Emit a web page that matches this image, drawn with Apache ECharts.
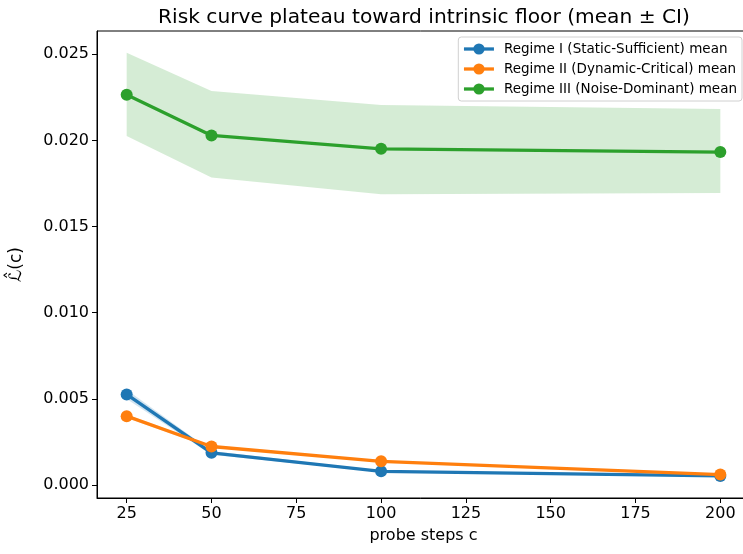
<!DOCTYPE html>
<html>
<head>
<meta charset="utf-8">
<script src="https://cdn.jsdelivr.net/npm/echarts@6/dist/echarts.min.js"></script>
<style>html,body{margin:0;padding:0;background:#fff}#c{width:743px;height:554px}</style>
</head>
<body>
<div id="c"></div>
<script>
const steps = [25, 50, 100, 200];
const xTicks = [25, 50, 75, 100, 125, 150, 175, 200];
const yTicks = [0, 0.005, 0.010, 0.015, 0.020, 0.025];

const regime1Mean = [0.00525, 0.00186, 0.00079, 0.00052];
const regime1Lo   = [0.00498, 0.00175, 0.00074, 0.00048];
const regime1Hi   = [0.00552, 0.00197, 0.00084, 0.00056];

const regime2Mean = [0.00399, 0.00223, 0.00137, 0.00060];
const regime2Lo   = [0.00389, 0.00216, 0.00132, 0.00056];
const regime2Hi   = [0.00409, 0.00230, 0.00142, 0.00064];

const regime3Mean = [0.02265, 0.02029, 0.01951, 0.01932];
const regime3Lo   = [0.02025, 0.01785, 0.01688, 0.01694];
const regime3Hi   = [0.02509, 0.02287, 0.02205, 0.02182];

const names = [
  'Regime I (Static-Sufficient) mean',
  'Regime II (Dynamic-Critical) mean',
  'Regime III (Noise-Dominant) mean'
];
const colors = ['#1f77b4', '#ff7f0e', '#2ca02c'];

function pairs(xs, ys) { return xs.map((x, i) => [x, ys[i]]); }

function band(idx, lo, hi) {
  const data = steps.map((x, i) => [x, lo[i], hi[i]]);
  return {
    type: 'custom', silent: true, z: 1,
    data: [0],
    encode: { x: [], y: [] },
    renderItem: function (params, api) {
      const top = data.map(d => api.coord([d[0], d[2]]));
      const bot = data.map(d => api.coord([d[0], d[1]])).reverse();
      return {
        type: 'polygon',
        shape: { points: top.concat(bot) },
        style: { fill: colors[idx], opacity: 0.2 }
      };
    }
  };
}

function meanSeries(idx, vals) {
  return { type: 'line', name: names[idx], data: pairs(steps, vals), symbol: 'circle', symbolSize: 12,
    color: colors[idx], lineStyle: { width: 3.3, color: colors[idx] },
    itemStyle: { color: colors[idx] }, z: 3 + idx };
}

const font = 'DejaVu Sans';
const chart = echarts.init(document.getElementById('c'), null, { renderer: 'canvas' });
chart.setOption({
  animation: false,
  backgroundColor: '#fff',
  textStyle: { fontFamily: font },
  title: {
    text: 'Risk curve plateau toward intrinsic floor (mean \u00b1 CI)',
    left: 419, top: 3, textAlign: 'center',
    textStyle: { fontFamily: font, fontSize: 20.2, fontWeight: 'normal', color: '#000' }
  },
  grid: { left: 97, right: -7, top: 31, bottom: 56, outerBoundsMode: 'none', containLabel: false,
    show: true, borderColor: '#000', borderWidth: 1, backgroundColor: 'transparent' },
  legend: {
    data: names, orient: 'vertical', right: 1, top: 37,
    itemWidth: 30, itemHeight: 14, itemGap: 6,
    padding: [5, 5, 5, 4],
    lineStyle: { width: 3.3 },
    borderColor: '#d0d0d0', borderWidth: 1, borderRadius: 3, backgroundColor: 'rgba(255,255,255,0.8)',
    textStyle: { fontFamily: font, fontSize: 13.5, color: '#000', padding: [0, 0, 0, 5] }
  },
  xAxis: {
    type: 'value', min: 16.25, max: 208.75,
    name: 'probe steps c', nameLocation: 'middle', nameGap: 30,
    nameTextStyle: { fontFamily: font, fontSize: 16, color: '#000' },
    axisLine: { show: true, onZero: false, lineStyle: { color: '#000', width: 1 } },
    axisTick: { show: true, length: 5, customValues: xTicks, lineStyle: { color: '#000' } },
    axisLabel: { customValues: xTicks, fontFamily: font, fontSize: 16, color: '#000', margin: 8 },
    splitLine: { show: false }
  },
  yAxis: {
    type: 'value', min: -0.00076, max: 0.02635,
    name: '\u2112\u0302(c)', nameLocation: 'middle', nameGap: 72, nameRotate: 90,
    nameTextStyle: { fontFamily: font, fontSize: 17, color: '#000' },
    axisLine: { show: true, onZero: false, lineStyle: { color: '#000', width: 1 } },
    axisTick: { show: true, length: 5, customValues: yTicks, lineStyle: { color: '#000' } },
    axisLabel: { customValues: yTicks, fontFamily: font, fontSize: 16, color: '#000', margin: 8,
      formatter: v => v.toFixed(3) },
    splitLine: { show: false }
  },
  series: [
    band(2, regime3Lo, regime3Hi),
    band(0, regime1Lo, regime1Hi),
    band(1, regime2Lo, regime2Hi),
    meanSeries(0, regime1Mean),
    meanSeries(1, regime2Mean),
    meanSeries(2, regime3Mean)
  ]
});
</script>
</body>
</html>
